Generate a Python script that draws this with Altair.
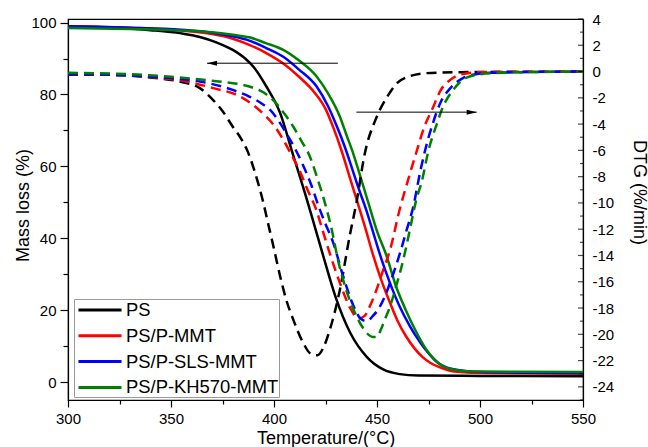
import altair as alt
import pandas as pd

FONT = "Liberation Sans"

series = ["PS", "PS/P-MMT", "PS/P-SLS-MMT", "PS/P-KH570-MMT"]
colors = ["#000000", "#ff0000", "#0000ff", "#008000"]

# ---- TG (mass loss, left axis) ----
ps_tg_t = [300, 320, 340, 355, 364, 372, 380, 386, 390, 396, 403, 409, 416, 420, 424, 430, 437, 445, 453, 461, 470, 500, 550]
ps_tg_m = [99.0, 98.6, 97.9, 97.0, 96.0, 94.5, 92.4, 90.0, 87.7, 82.5, 74.8, 63.7, 50.7, 42.8, 34.9, 23.5, 13.7, 7.0, 3.5, 2.2, 1.8, 1.7, 1.6]

pmmt_tg_t = [300, 330, 355, 370, 380, 388, 396, 404, 412, 420, 425, 429, 433, 437, 440, 444, 448, 452, 456, 460, 464, 468, 472, 476, 480, 485, 492, 500, 550]
pmmt_tg_m = [99.0, 98.6, 97.8, 96.8, 95.5, 93.8, 91.6, 88.8, 85.0, 80.3, 76.0, 70.5, 64.0, 56.5, 51.0, 43.5, 35.5, 28.5, 22.5, 17.0, 12.8, 9.5, 7.0, 5.3, 4.2, 3.2, 2.7, 2.5, 2.3]

psls_tg_t = [300, 330, 355, 370, 380, 388, 396, 404.5, 412, 420.7, 426, 430.6, 434, 437, 441, 445, 449, 452, 456, 461, 466, 471, 475, 479, 484, 490, 500, 550]
psls_tg_m = [99.0, 98.6, 98.0, 97.2, 96.2, 95.0, 93.0, 90.5, 87.0, 82.2, 77.0, 71.0, 66.0, 61.0, 54.0, 47.5, 40.0, 34.5, 28.0, 21.0, 15.5, 11.0, 8.0, 5.6, 4.0, 3.3, 2.8, 2.5]

pkh_tg_t = [300, 330, 355, 370, 380, 388, 396, 404.5, 412, 420.7, 426, 432, 435, 438.5, 442, 446, 450, 454.7, 459, 464, 469, 474, 478, 482, 487, 493.5, 500, 550]
pkh_tg_m = [98.5, 98.2, 97.8, 97.3, 96.6, 95.9, 94.3, 92.4, 89.5, 85.0, 80.5, 73.8, 69.0, 63.5, 57.0, 49.5, 42.0, 35.0, 27.0, 20.0, 14.0, 9.0, 6.2, 4.4, 3.5, 3.0, 2.9, 2.8]

# ---- DTG (right axis) ----
ps_dtg_t = [300, 320, 340, 354, 364, 370, 375, 380, 384, 387, 390, 392.5, 394.7, 396.6, 400, 403, 406, 409.4, 414, 418, 421, 424, 427, 432, 437, 440, 444, 450, 455, 460, 466, 474, 490, 550]
ps_dtg_v = [-0.25, -0.25, -0.45, -0.76, -1.26, -2.1, -3.0, -4.2, -5.1, -6.0, -7.3, -8.6, -9.9, -11.2, -13.5, -15.6, -17.4, -18.9, -20.6, -21.5, -21.6, -21.0, -19.7, -16.6, -12.3, -10.0, -6.3, -3.4, -1.9, -0.85, -0.35, -0.12, -0.05, 0.0]

pmmt_dtg_t = [300, 330, 345, 357.6, 370.5, 383.5, 394.7, 400, 404.5, 408, 412.6, 416, 420.7, 424, 427, 432, 437, 441, 444, 447, 450, 453, 456.3, 461, 465, 469, 473, 477, 481, 485.4, 490, 500, 550]
pmmt_dtg_v = [-0.2, -0.3, -0.5, -0.76, -1.26, -1.9, -3.2, -4.1, -5.2, -6.2, -7.6, -8.9, -10.6, -12.3, -13.8, -16.1, -18.0, -18.8, -18.6, -17.7, -16.5, -15.1, -13.6, -10.5, -8.3, -6.2, -4.2, -2.8, -1.4, -0.65, -0.25, -0.05, 0.0]

psls_dtg_t = [300, 330, 350, 364, 380, 388, 394.7, 398, 402, 406, 410, 414, 418, 422, 425, 428.7, 433.6, 438.5, 442, 445, 448, 451, 453, 457, 461, 464.5, 467.6, 471, 474, 477, 481, 485.4, 491.7, 498, 505, 550]
psls_dtg_v = [-0.2, -0.3, -0.5, -0.76, -1.4, -1.9, -2.5, -2.9, -3.7, -4.7, -5.8, -7.1, -8.6, -10.4, -11.6, -13.0, -15.6, -17.8, -18.8, -19.0, -18.6, -18.0, -17.4, -15.8, -13.9, -12.0, -10.3, -7.6, -5.6, -4.0, -2.3, -1.3, -0.5, -0.2, -0.1, 0.0]

pkh_dtg_t = [300, 330, 350, 370, 388, 395, 401, 405, 409.4, 413, 417.5, 421, 425.6, 428, 431, 435, 440, 444, 448, 450, 452, 454, 456.3, 459, 462.8, 466, 469, 471.7, 475, 479, 482, 487, 491, 495, 506, 550]
pkh_dtg_v = [-0.1, -0.2, -0.4, -0.7, -1.14, -1.6, -2.4, -3.2, -4.2, -5.2, -6.5, -8.1, -10.5, -12.0, -14.3, -16.6, -18.6, -19.7, -20.2, -20.2, -19.6, -18.8, -17.9, -16.5, -14.3, -12.0, -9.8, -8.4, -6.0, -4.0, -2.7, -1.4, -0.7, -0.38, -0.12, 0.0]

# ---- arrows ----
tg_arrow_x = [431.0, 367.5]      # from, to (points left)
tg_arrow_y = [88.7]
dtg_arrow_x = [440.0, 498.4]     # from, to (points right)
dtg_arrow_y = [-3.09]

# ---- axis ticks ----
x_ticks = [300, 325, 350, 375, 400, 425, 450, 475, 500, 525, 550]
left_ticks = [0, 10, 20, 30, 40, 50, 60, 70, 80, 90, 100]
right_major = [-24, -22, -20, -18, -16, -14, -12, -10, -8, -6, -4, -2, 0, 2, 4]
right_minor = [-25, -23, -21, -19, -17, -15, -13, -11, -9, -7, -5, -3, -1, 1, 3]

tg_df = pd.concat([
    pd.DataFrame({"T": ps_tg_t, "v": ps_tg_m, "series": series[0]}),
    pd.DataFrame({"T": pmmt_tg_t, "v": pmmt_tg_m, "series": series[1]}),
    pd.DataFrame({"T": psls_tg_t, "v": psls_tg_m, "series": series[2]}),
    pd.DataFrame({"T": pkh_tg_t, "v": pkh_tg_m, "series": series[3]}),
])
dtg_df = pd.concat([
    pd.DataFrame({"T": ps_dtg_t, "v": ps_dtg_v, "series": series[0]}),
    pd.DataFrame({"T": pmmt_dtg_t, "v": pmmt_dtg_v, "series": series[1]}),
    pd.DataFrame({"T": psls_dtg_t, "v": psls_dtg_v, "series": series[2]}),
    pd.DataFrame({"T": pkh_dtg_t, "v": pkh_dtg_v, "series": series[3]}),
])

XD = [300, 550]
LD = [-5, 101]
RD = [-25, 4]

def xs():
    return alt.Scale(domain=XD, nice=False, zero=False)

def ls():
    return alt.Scale(domain=LD, nice=False, zero=False)

def rs():
    return alt.Scale(domain=RD, nice=False, zero=False)

legend = alt.Legend(
    title=None, orient="none", legendX=6, legendY=280,
    symbolType="M-2.3,0H2.3", symbolSize=350, symbolStrokeWidth=3,
    symbolOffset=15, labelOffset=15,
    labelFont=FONT, labelFontSize=18.4, labelColor="black", labelLimit=0,
    strokeColor="#9a9a9a", fillColor="white", padding=0, rowPadding=4.8,
)
color = alt.Color("series:N", scale=alt.Scale(domain=series, range=colors), legend=legend)

xaxis = alt.Axis(
    values=x_ticks, title="Temperature/(°C)",
    labelExpr="datum.value % 50 == 0 ? datum.label : ''",
    tickSize={"condition": {"test": "datum.value % 50 == 0", "value": 7}, "value": 4},
    labelFlush=False, labelPadding=4, labelFontSize=15, labelFont=FONT, labelColor="black",
    titleFont=FONT, titleFontSize=18, titleFontWeight="normal", titleColor="black",
    titleY=43, titleBaseline="alphabetic",
    domainColor="black", domainWidth=1.2, tickColor="black", tickWidth=1.2, grid=False,
)

laxis = alt.Axis(
    values=left_ticks, title="Mass loss (%)", orient="left",
    labelExpr="datum.value % 20 == 0 ? datum.label : ''",
    tickSize={"condition": {"test": "datum.value % 20 == 0", "value": 8}, "value": 5},
    labelPadding=4, labelFontSize=15, labelFont=FONT, labelColor="black",
    titleFont=FONT, titleFontSize=18, titleFontWeight="normal", titleColor="black",
    titleAngle=270, titleX=-45, titleY=186, titleBaseline="middle", titleAlign="center",
    domainColor="black", domainWidth=1.2, tickColor="black", tickWidth=1.2, grid=False,
)
raxis = alt.Axis(
    values=right_major, title="DTG (%/min)", orient="right", ticks=False,
    labelExpr="'' + datum.value",
    labelPadding=9, labelFontSize=15, labelFont=FONT, labelColor="black",
    titleFont=FONT, titleFontSize=18, titleFontWeight="normal", titleColor="black",
    titleAngle=90, titleX=55, titleY=173, titleBaseline="middle", titleAlign="center",
    domainColor="black", domainWidth=1.2, grid=False,
)

X = alt.X("T:Q", scale=xs(), axis=xaxis)

tg_lines = alt.Chart(tg_df).mark_line(strokeWidth=2.5, interpolate="monotone").encode(
    x=X, y=alt.Y("v:Q", scale=ls(), axis=laxis), color=color,
)
dtg_lines = alt.Chart(dtg_df).mark_line(strokeWidth=2.5, strokeDash=[10, 6], interpolate="monotone").encode(
    x=X, y=alt.Y("v:Q", scale=rs(), axis=raxis), color=color,
)

tg_arrow_df = pd.DataFrame({"T": [tg_arrow_x[0]], "T2": [tg_arrow_x[1]], "y": tg_arrow_y})
tg_rule = alt.Chart(tg_arrow_df).mark_rule(color="black", strokeWidth=1).encode(
    x=X, x2="T2:Q", y=alt.Y("y:Q", scale=ls(), axis=None),
)
tg_head = alt.Chart(tg_arrow_df).mark_point(
    shape="M0,0L2,-0.5L2,0.5Z", size=100, filled=True, color="black", opacity=1
).encode(x=alt.X("T2:Q", scale=xs(), axis=xaxis), y=alt.Y("y:Q", scale=ls(), axis=None))

dtg_arrow_df = pd.DataFrame({"T": [dtg_arrow_x[0]], "T2": [dtg_arrow_x[1]], "y": dtg_arrow_y})
dtg_rule = alt.Chart(dtg_arrow_df).mark_rule(color="black", strokeWidth=1).encode(
    x=X, x2="T2:Q", y=alt.Y("y:Q", scale=rs(), axis=None),
)
dtg_head = alt.Chart(dtg_arrow_df).mark_point(
    shape="M0,0L-2,-0.5L-2,0.5Z", size=100, filled=True, color="black", opacity=1
).encode(x=alt.X("T2:Q", scale=xs(), axis=xaxis), y=alt.Y("y:Q", scale=rs(), axis=None))

maj_df = pd.DataFrame({"v": right_major, "T": [XD[1]] * len(right_major)})
min_df = pd.DataFrame({"v": right_minor, "T": [XD[1]] * len(right_minor)})
rt_major = alt.Chart(maj_df).mark_tick(orient="horizontal", size=5, thickness=1.2, xOffset=-2.5, color="black").encode(
    x=X, y=alt.Y("v:Q", scale=rs(), axis=None),
)
rt_minor = alt.Chart(min_df).mark_tick(orient="horizontal", size=3, thickness=1.2, xOffset=-1.5, color="black").encode(
    x=X, y=alt.Y("v:Q", scale=rs(), axis=None),
)

chart = alt.layer(
    tg_lines, dtg_lines, tg_rule, tg_head, dtg_rule, dtg_head, rt_major, rt_minor
).resolve_scale(y="independent").properties(
    width=515, height=381,
    padding={"left": 68, "top": 19, "right": 65, "bottom": 47},
    autosize=alt.AutoSizeParams(type="none"),
    background="white",
).configure_view(stroke="black", strokeWidth=1.2)

chart.save("out.html", embed_options={"renderer": "svg", "actions": False})
